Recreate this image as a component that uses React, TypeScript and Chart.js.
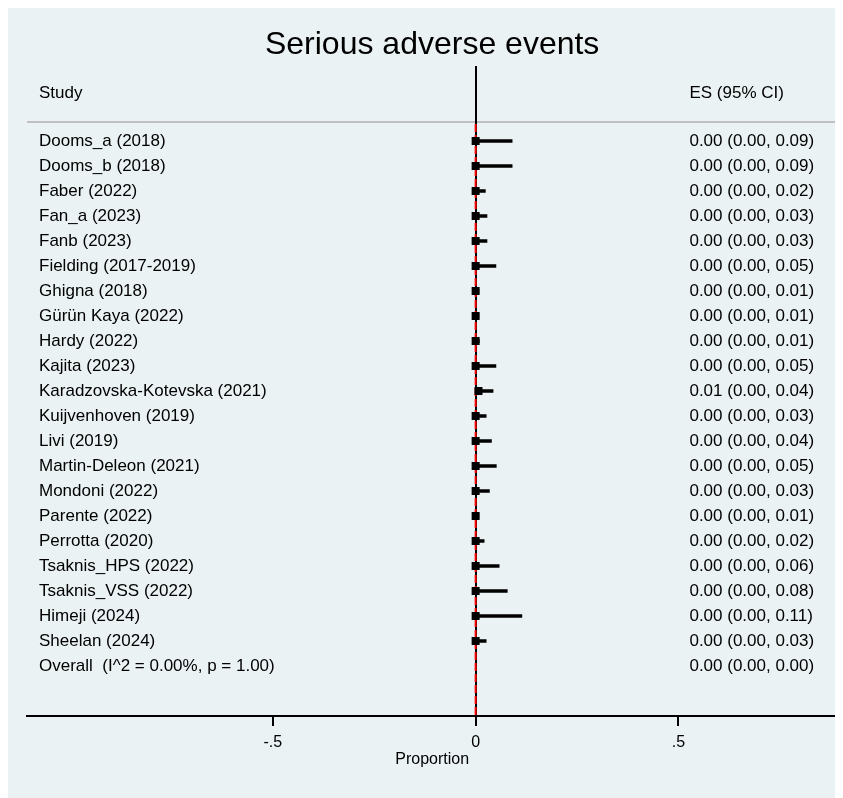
import React, { useEffect, useRef } from "react";
import { Chart, registerables } from "chart.js";

Chart.register(...registerables);

const STUDIES = [
  "Dooms_a (2018)",
  "Dooms_b (2018)",
  "Faber (2022)",
  "Fan_a (2023)",
  "Fanb (2023)",
  "Fielding (2017-2019)",
  "Ghigna (2018)",
  "Gürün Kaya (2022)",
  "Hardy (2022)",
  "Kajita (2023)",
  "Karadzovska-Kotevska (2021)",
  "Kuijvenhoven (2019)",
  "Livi (2019)",
  "Martin-Deleon (2021)",
  "Mondoni (2022)",
  "Parente (2022)",
  "Perrotta (2020)",
  "Tsaknis_HPS (2022)",
  "Tsaknis_VSS (2022)",
  "Himeji (2024)",
  "Sheelan (2024)",
];

const ESTIMATES = [0, 0, 0, 0, 0, 0, 0, 0, 0, 0, 0.007, 0, 0, 0, 0, 0, 0, 0, 0, 0, 0];
const LOWER = [0, 0, 0, 0, 0, 0, 0, 0, 0, 0, 0, 0, 0, 0, 0, 0, 0, 0, 0, 0, 0];
const UPPER = [
  0.09, 0.09, 0.024, 0.028, 0.028, 0.05, 0.008, 0.008, 0.009, 0.05, 0.043,
  0.026, 0.039, 0.051, 0.034, 0.008, 0.021, 0.058, 0.078, 0.114, 0.026,
];

const OVERALL_LABEL = "Overall  (I^2 = 0.00%, p = 1.00)";
const OVERALL_ES = 0;
const OVERALL_LOWER = 0;
const OVERALL_UPPER = 0;

const TICK_VALUES = [-0.5, 0, 0.5];
const TICK_LABELS = ["-.5", "0", ".5"];

const TITLE = "Serious adverse events";
const X_TITLE = "Proportion";
const HEAD_STUDY = "Study";
const HEAD_ES = "ES (95% CI)";

const fmt = (v: number) => v.toFixed(2);
const esText = (e: number, l: number, u: number) => `${fmt(e)} (${fmt(l)}, ${fmt(u)})`;

const FONT = "'Liberation Sans', Arial, Helvetica, sans-serif";

export default function App() {
  const ref = useRef<HTMLCanvasElement | null>(null);

  useEffect(() => {
    document.documentElement.style.overflow = "hidden";
    document.body.style.overflow = "hidden";
    const canvas = ref.current;
    if (!canvas) return;

    const nRows = STUDIES.length + 1;
    const HEADER_Y = -1.92;
    const RULE_Y = -0.76;
    const LINE_TOP_Y = -0.68;
    const Y_MIN = -3;
    const Y_MAX = 23;

    const textPlugin = {
      id: "forestText",
      beforeDraw(chart: any) {
        const { ctx, width, height, chartArea, scales } = chart;
        ctx.save();
        ctx.fillStyle = "#eaf2f3";
        ctx.fillRect(0, 0, width, height);
        const ry = scales.y.getPixelForValue(RULE_Y);
        ctx.strokeStyle = "#c0c0c0";
        ctx.lineWidth = 2;
        ctx.beginPath();
        ctx.moveTo(chartArea.left, ry);
        ctx.lineTo(chartArea.right, ry);
        ctx.stroke();
        ctx.restore();
      },
      afterDatasetsDraw(chart: any) {
        const { ctx, chartArea, scales } = chart;
        const y = scales.y;
        const x = scales.x;
        const leftX = chartArea.left + 12;
        const esX = x.getPixelForValue(0.527);
        ctx.save();
        ctx.fillStyle = "#000";
        ctx.textBaseline = "middle";
        ctx.textAlign = "left";
        ctx.font = `17px ${FONT}`;
        ctx.fillText(HEAD_STUDY, leftX, y.getPixelForValue(HEADER_Y));
        ctx.fillText(HEAD_ES, esX, y.getPixelForValue(HEADER_Y));
        STUDIES.forEach((s, i) => {
          const py = y.getPixelForValue(i);
          ctx.fillText(s, leftX, py);
          ctx.fillText(esText(ESTIMATES[i], LOWER[i], UPPER[i]), esX, py);
        });
        const oy = y.getPixelForValue(nRows - 1);
        ctx.fillText(OVERALL_LABEL, leftX, oy);
        ctx.fillText(esText(OVERALL_ES, OVERALL_LOWER, OVERALL_UPPER), esX, oy);
        ctx.restore();
      },
    };

    const chart = new Chart(canvas, {
      type: "bar",
      data: {
        datasets: [
          {
            type: "scatter",
            data: ESTIMATES.map((e, i) => ({ x: e, y: i })),
            pointStyle: "rect",
            pointRadius: 5.66,
            pointBorderWidth: 0,
            backgroundColor: "#000",
            borderColor: "#000",
          } as any,
          {
            type: "bar",
            indexAxis: "y",
            data: STUDIES.map((_, i) => ({ y: i, x: [LOWER[i], UPPER[i]] })),
            backgroundColor: "#000",
            barThickness: 3,
            borderWidth: 0,
          } as any,
          {
            type: "line",
            data: [
              { x: OVERALL_ES, y: LINE_TOP_Y },
              { x: OVERALL_ES, y: Y_MAX },
            ],
            borderColor: "#ff0000",
            borderWidth: 2,
            borderDash: [8, 3],
            pointRadius: 0,
            fill: false,
          } as any,
        ],
      },
      options: {
        animation: false,
        responsive: false,
        devicePixelRatio: 1,
        layout: { padding: { left: 19, right: 5, top: 0, bottom: 0 } },
        plugins: {
          legend: { display: false },
          tooltip: { enabled: false },
          title: {
            display: true,
            text: TITLE,
            color: "#000",
            fullSize: false,
            font: { family: FONT, size: 32, weight: "normal" },
            padding: { top: 17.8, bottom: 1.8 },
          },
        },
        scales: {
          x: {
            type: "linear",
            offset: false,
            min: -1.1059,
            max: 0.8916,
            afterBuildTicks: (s: any) => {
              s.ticks = TICK_VALUES.map((v) => ({ value: v }));
            },
            afterFit: (s: any) => {
              s.height = 82;
            },
            ticks: {
              autoSkip: false,
              maxRotation: 0,
              color: "#000",
              padding: 7.4,
              font: { family: FONT, size: 16 },
              callback: (v: any) => {
                const idx = TICK_VALUES.indexOf(Number(v));
                return idx >= 0 ? TICK_LABELS[idx] : "";
              },
            },
            grid: {
              offset: false,
              drawOnChartArea: true,
              drawTicks: true,
              tickLength: 10,
              tickColor: "#000",
              tickWidth: 2,
              lineWidth: 2,
              color: (c: any) => (c.tick && c.tick.value === 0 ? "#000" : "rgba(0,0,0,0)"),
            },
            border: { display: true, color: "#000", width: 2 },
            title: {
              display: true,
              text: X_TITLE,
              color: "#000",
              font: { family: FONT, size: 16 },
              padding: { top: 0, bottom: 28.4 },
            },
          },
          y: {
            type: "linear",
            offset: false,
            grid: { offset: false },
            beginAtZero: false,
            reverse: true,
            min: Y_MIN,
            max: Y_MAX,
            display: false,
          },
        },
      } as any,
      plugins: [textPlugin],
    });

    return () => chart.destroy();
  }, []);

  return <canvas ref={ref} width={835} height={790} style={{ display: "block" }} />;
}
